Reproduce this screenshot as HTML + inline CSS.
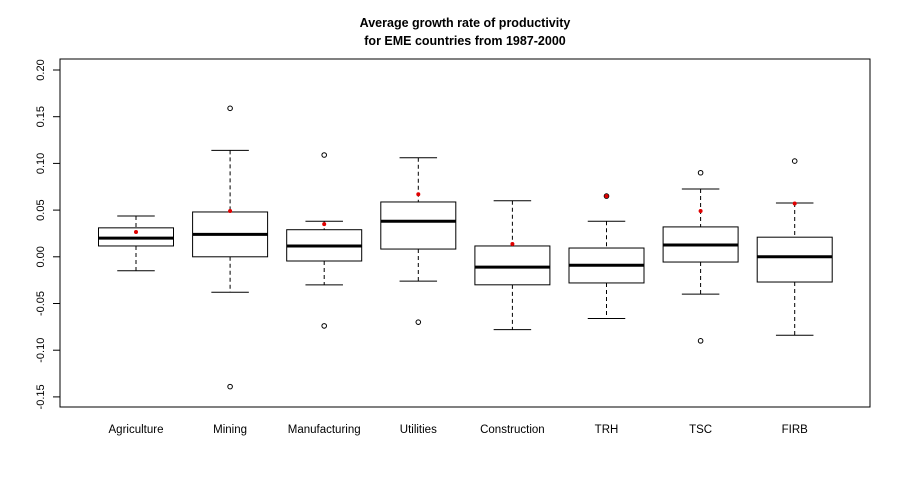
<!DOCTYPE html>
<html><head><meta charset="utf-8"><style>
body{margin:0;background:#fff;}
svg text{font-family:"Liberation Sans",Arial,sans-serif;}
</style></head><body>
<svg id="chart" width="900" height="480" viewBox="0 0 900 480">
<rect width="900" height="480" fill="#fff"/>
<text x="465" y="27" text-anchor="middle" font-size="12.5" font-weight="bold">Average growth rate of productivity</text>
<text x="465" y="45" text-anchor="middle" font-size="12.5" font-weight="bold">for EME countries from 1987-2000</text>
<rect x="60" y="59" width="810" height="348" fill="none" stroke="#000"/>
<g id="g"></g>
</svg>
<script>
const categories=["Agriculture","Mining","Manufacturing","Utilities","Construction","TRH","TSC","FIRB"];
const lowerWhisker=[-0.015,-0.038,-0.030,-0.026,-0.078,-0.066,-0.040,-0.084];
const q1=[0.0116,0.0,-0.0045,0.0083,-0.030,-0.028,-0.0056,-0.027];
const median=[0.020,0.024,0.0116,0.038,-0.011,-0.009,0.0126,0.0];
const q3=[0.031,0.048,0.029,0.0587,0.0116,0.0094,0.032,0.021];
const upperWhisker=[0.0437,0.114,0.038,0.106,0.060,0.038,0.0726,0.0576];
const outliers=[[],[0.159,-0.139],[0.109,-0.074],[-0.070],[],[0.065],[0.090,-0.090],[0.1025]];
const means=[0.0266,0.049,0.035,0.067,0.0137,0.065,0.049,0.057];
const yTicks=[-0.15,-0.10,-0.05,0.00,0.05,0.10,0.15,0.20];
const yTickLabels=["-0.15","-0.10","-0.05","0.00","0.05","0.10","0.15","0.20"];

const NS="http://www.w3.org/2000/svg";
const g=document.getElementById('g');
function y(v){return 256.8-v*934;}
function x(i){return 136+i*94.1;}
function mk(t,a,p){const e=document.createElementNS(NS,t);for(const k in a)e.setAttribute(k,a[k]);(p||g).appendChild(e);return e;}
const ax=mk('line',{x1:60,x2:60,y1:y(yTicks[0]),y2:y(yTicks[yTicks.length-1]),stroke:'#000'});


yTicks.forEach((v,i)=>{
  const t=mk('line',{x1:53,x2:60,y1:y(v),y2:y(v),stroke:'#000'});
  
  
  const l=mk('text',{x:44,y:y(v),'font-size':11,'text-anchor':'middle',transform:`rotate(-90 44 ${y(v)})`});
  l.textContent=yTickLabels[i];
  
  
});
const hw=37.5;
categories.forEach((c,i)=>{
  const cx=x(i);
  const bg=mk('g',{});
  
  
  mk('line',{x1:cx,x2:cx,y1:y(upperWhisker[i]),y2:y(q3[i]),stroke:'#000','stroke-dasharray':'4,3'},bg);
  mk('line',{x1:cx,x2:cx,y1:y(q1[i]),y2:y(lowerWhisker[i]),stroke:'#000','stroke-dasharray':'4,3'},bg);
  mk('line',{x1:cx-hw/2,x2:cx+hw/2,y1:y(upperWhisker[i]),y2:y(upperWhisker[i]),stroke:'#000'},bg);
  mk('line',{x1:cx-hw/2,x2:cx+hw/2,y1:y(lowerWhisker[i]),y2:y(lowerWhisker[i]),stroke:'#000'},bg);
  mk('rect',{x:cx-hw,y:y(q3[i]),width:hw*2,height:y(q1[i])-y(q3[i]),fill:'#fff',stroke:'#000'},bg);
  mk('line',{x1:cx-hw,x2:cx+hw,y1:y(median[i]),y2:y(median[i]),stroke:'#000','stroke-width':3},bg);
  outliers[i].forEach(o=>{mk('circle',{cx:cx,cy:y(o),r:2.3,fill:'#fff',stroke:'#000'},bg);});
  const m=mk('circle',{cx:cx,cy:y(means[i]),r:2,fill:'#e00000'},bg);
  
  
  const l=mk('text',{x:cx,y:433,'font-size':11.5,'text-anchor':'middle'});
  l.textContent=c;
  
  
});
</script>
</body></html>
